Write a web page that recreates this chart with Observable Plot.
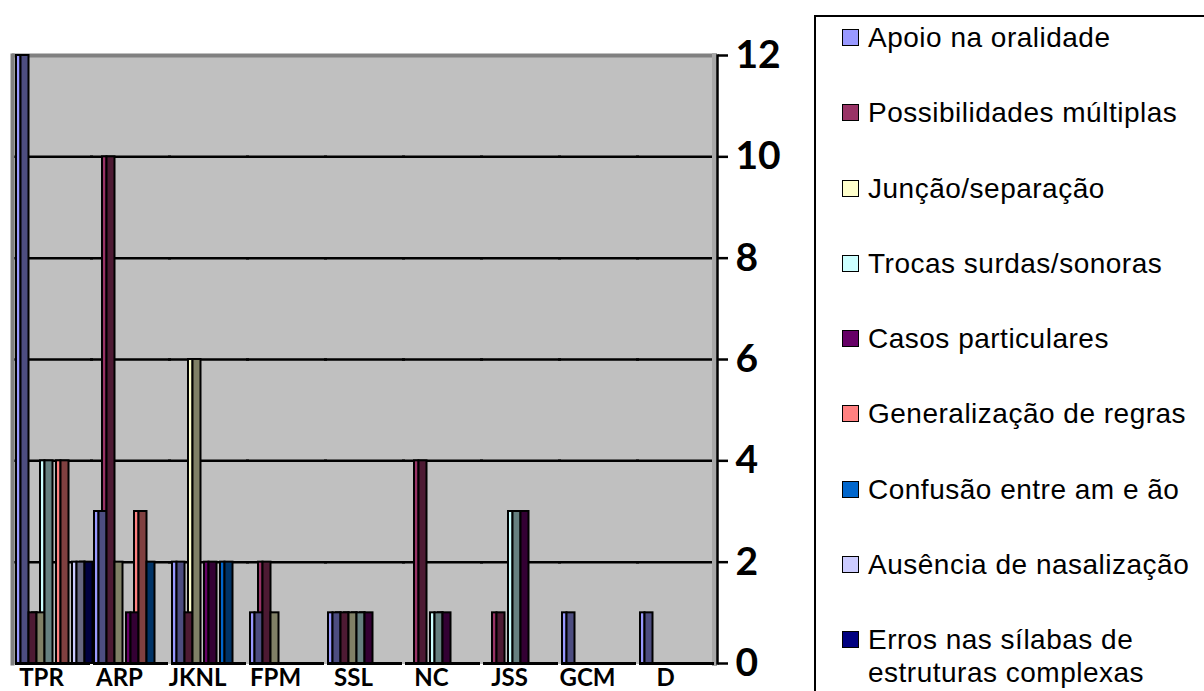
<!DOCTYPE html>
<html>
<head>
<meta charset="utf-8">
<script src="https://cdn.jsdelivr.net/npm/d3@7"></script>
<script src="https://cdn.jsdelivr.net/npm/@observablehq/plot@0.6"></script>
<style>
html, body { margin: 0; padding: 0; background: #fff; }
#wrap { position: relative; width: 1204px; height: 691px; overflow: hidden; }
#chart { position: absolute; left: 0; top: 0; }
#legend { position: absolute; left: 814px; top: 15px; width: 500px; height: 800px;
  border: 2px solid #000; box-sizing: border-box; padding-top: 4px;
  font-family: "Liberation Sans", Arial, sans-serif; font-size: 28px; letter-spacing: 0.5px; color: #000; }
.item { position: relative; height: 75.3px; }
.sw { position: absolute; left: 26px; top: 8px; width: 17px; height: 17px; border: 1.5px solid #000; box-sizing: border-box; }
.lab { position: absolute; left: 52px; top: 0; width: 335px; line-height: 33px; }
</style>
</head>
<body>
<div id="wrap">
  <div id="chart"></div>
  <div id="legend"></div>
</div>
<script>
// ---- data ----
const categories = ["TPR", "ARP", "JKNL", "FPM", "SSL", "NC", "JSS", "GCM", "D"];
const seriesNames = [
  "Apoio na oralidade",
  "Possibilidades múltiplas",
  "Junção/separação",
  "Trocas surdas/sonoras",
  "Casos particulares",
  "Generalização de regras",
  "Confusão entre am e ão",
  "Ausência de nasalização",
  "Erros nas sílabas de estruturas complexas"
];
const seriesColors = ["#9999FF", "#993366", "#FFFFCC", "#CCFFFF", "#660066", "#FF8080", "#0066CC", "#CCCCFF", "#000080"];
const apoio     = [12, 3, 2, 1, 1, 0, 0, 1, 1];
const possib    = [1, 10, 1, 2, 1, 4, 1, 0, 0];
const juncao    = [1, 2, 6, 1, 1, 0, 0, 0, 0];
const trocas    = [4, 0, 0, 0, 1, 1, 3, 0, 0];
const casos     = [0, 1, 2, 0, 1, 1, 3, 0, 0];
const generaliz = [4, 3, 0, 0, 0, 0, 0, 0, 0];
const confusao  = [0, 2, 2, 0, 0, 0, 0, 0, 0];
const ausencia  = [2, 0, 0, 0, 0, 0, 0, 0, 0];
const erros     = [2, 0, 0, 0, 0, 0, 0, 0, 0];
const seriesValues = [apoio, possib, juncao, trocas, casos, generaliz, confusao, ausencia, erros];
const yTicks = [0, 2, 4, 6, 8, 10, 12];

// ---- build table ----
const shade = c => { const k = d3.rgb(c); return d3.rgb(k.r * 0.5, k.g * 0.5, k.b * 0.5).formatHex(); };
const rows = [];
categories.forEach((c, ci) => seriesNames.forEach((s, si) => rows.push({
  cat: c, series: s, value: seriesValues[si][ci], base: seriesColors[si], dark: shade(seriesColors[si])
})));

const W = 810, H = 691;
const FONT = "Lato, 'Open Sans', sans-serif";
const chart = Plot.plot({
  width: W, height: H,
  marginLeft: 12, marginRight: W - 714, marginTop: 55, marginBottom: 28,
  style: { fontFamily: FONT, fontWeight: "bold", fontSize: "39px", background: "transparent", overflow: "visible", color: "#000" },
  fx: { domain: categories, padding: 0, axis: null, label: null },
  x: { domain: seriesNames, paddingInner: 0, paddingOuter: 0.375, align: 0.7, axis: null },
  y: { domain: [0, 12], axis: null },
  color: { type: "identity" },
  marks: [
    Plot.frame({ fill: "#C0C0C0", stroke: "#C0C0C0", strokeWidth: 1.5, shapeRendering: "crispEdges" }),
    Plot.ruleY([12], { stroke: "#808080", strokeWidth: 4 }),
    Plot.ruleY(yTicks.filter(t => t > 0 && t < 12), { stroke: "#000", strokeWidth: 2.5, insetRight: -3 }),
    Plot.frame({ anchor: "right", facetAnchor: "right", stroke: "#A8A8A8", strokeWidth: 5 }),
    Plot.barY(rows, { fx: "cat", x: "series", y: "value", fill: "base", stroke: "#000", strokeWidth: 2, insetLeft: 0, insetRight: 3.5 }),
    Plot.barY(rows, { fx: "cat", x: "series", y: "value", fill: "dark", stroke: "#000", strokeWidth: 2, insetLeft: 4.5, insetRight: -4.5 }),
    Plot.ruleY([0], { stroke: "#000", strokeWidth: 3, insetLeft: 3 }),
    Plot.frame({ anchor: "left", facetAnchor: "left", stroke: "#808080", strokeWidth: 4 }),
    Plot.frame({ anchor: "right", facetAnchor: "right", stroke: "#000", strokeWidth: 2.5, dx: 3 }),
    Plot.axisY({ anchor: "right", ticks: yTicks, tickSize: 10, tickPadding: 8, strokeWidth: 2.5, dx: 3,
      fontSize: 39, fontWeight: "bold", fontFamily: FONT, label: null }),
    Plot.text(categories, { fx: d => d, text: d => d, frameAnchor: "bottom", lineAnchor: "top", dy: 5, dx: -10,
      fontSize: 24, fontWeight: "bold", fontFamily: FONT, fill: "#000" })
  ]
});
document.getElementById("chart").appendChild(chart);

// ---- legend ----
const legend = document.getElementById("legend");
seriesNames.forEach((s, i) => {
  const item = document.createElement("div");
  item.className = "item";
  const sw = document.createElement("div");
  sw.className = "sw";
  sw.style.background = seriesColors[i];
  const lab = document.createElement("div");
  lab.className = "lab";
  lab.textContent = s;
  item.appendChild(sw);
  item.appendChild(lab);
  legend.appendChild(item);
});
</script>
</body>
</html>
